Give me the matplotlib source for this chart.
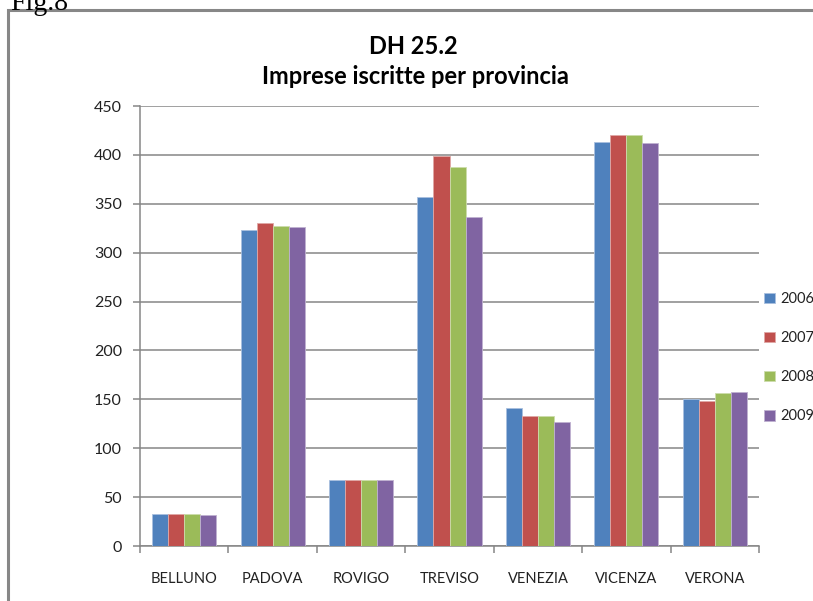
import matplotlib
matplotlib.use("Agg")
import matplotlib.pyplot as plt
import numpy as np
from matplotlib.patches import Rectangle

categories = ["BELLUNO", "PADOVA", "ROVIGO", "TREVISO", "VENEZIA", "VICENZA", "VERONA"]
years = ["2006", "2007", "2008", "2009"]
v2006 = [33, 323, 68, 357, 141, 413, 150]
v2007 = [33, 330, 68, 399, 133, 420, 148]
v2008 = [33, 327, 68, 388, 133, 420, 156]
v2009 = [32, 326, 68, 336, 127, 412, 157]
series = [v2006, v2007, v2008, v2009]
colors = ["#4F81BD", "#C0504D", "#9BBB59", "#8064A2"]
edges = ["#a9c0df", "#e0a8a6", "#cddcac", "#bfb1d0"]

plt.rcParams['font.family'] = ['Lato', 'DejaVu Sans']

fig = plt.figure(figsize=(8.13, 6.01), dpi=100)
fig.patch.set_facecolor("white")

# outer chart frame
W, H = 813, 601
frame = Rectangle((8 / W, -0.05), 1.2, (H - 10) / H + 0.05, transform=fig.transFigure,
                  fill=False, edgecolor="#878787", linewidth=2.2)
fig.add_artist(frame)
fig.text(10 / W, 1 + 9 / H, "Fig.8", fontsize=20, family="Liberation Serif",
         ha="left", va="top", color="black")

ax = fig.add_axes([140 / W, 1 - 546 / H, (759 - 140) / W, (546 - 106) / H])
x = np.arange(len(categories))
bw = 0.181
for i, (vals, c, e) in enumerate(zip(series, colors, edges)):
    ax.bar(x + (i - 1.5) * bw, vals, width=bw, color=c, edgecolor=e, linewidth=0.6,
           label=years[i], zorder=3)

ax.set_xlim(-0.5, len(categories) - 0.5)
ax.set_ylim(0, 450)
ax.set_yticks(np.arange(0, 451, 50))
ax.yaxis.grid(True, color="#868686", linewidth=1.1, zorder=0)
ax.set_axisbelow(True)
for s in ["top", "right"]:
    ax.spines[s].set_visible(False)
for s in ["left", "bottom"]:
    ax.spines[s].set_color("#868686")
    ax.spines[s].set_linewidth(1.1)
ax.set_xticks(x)
ax.set_xticklabels(categories)
ax.set_xticks(np.arange(-0.5, len(categories), 1.0), minor=True)
ax.tick_params(axis="x", which="major", length=0, pad=19, labelsize=10.5, labelcolor="#222222")
ax.tick_params(axis="x", which="minor", length=5, color="#868686", width=1.1)
ax.tick_params(axis="y", length=5, color="#868686", width=1.1, labelsize=11.5, pad=8,
               labelcolor="#222222")

fig.text(413 / W, 1 - 54 / H, "DH 25.2", fontsize=17, fontweight="bold",
         ha="center", va="baseline")
fig.text(415 / W, 1 - 84 / H, "Imprese iscritte per provincia", fontsize=17,
         fontweight="bold", ha="center", va="baseline")

leg = ax.legend(loc="upper left", bbox_to_anchor=(764 / W, 1 - 292 / H),
                bbox_transform=fig.transFigure, frameon=False, fontsize=10.5,
                handlelength=0.75, handleheight=0.75, handletextpad=0.35,
                labelspacing=1.72, borderpad=0, borderaxespad=0)
for t in leg.get_texts():
    t.set_color("#222222")

fig.savefig("out.png", dpi=100, facecolor="white")
